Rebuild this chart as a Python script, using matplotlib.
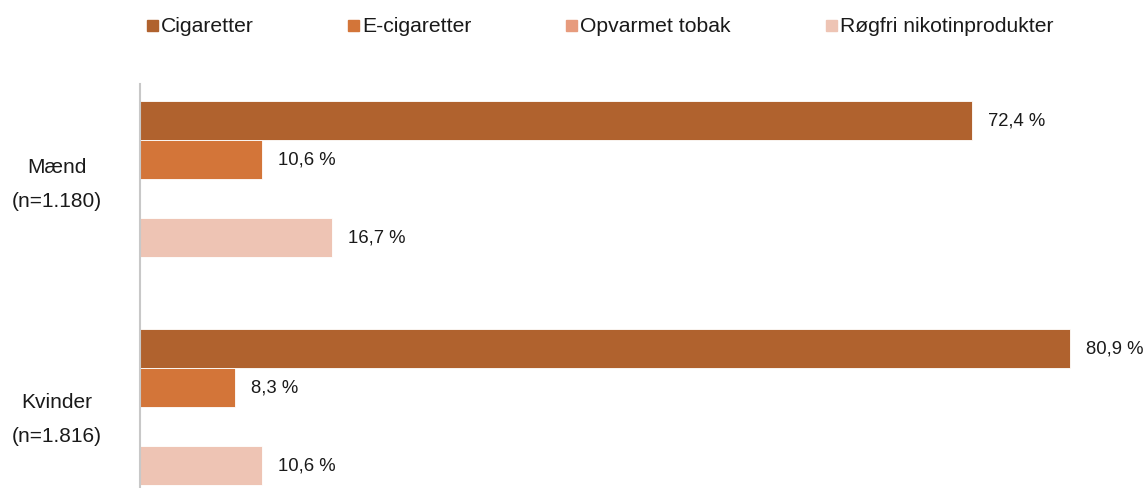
import matplotlib.pyplot as plt
import numpy as np
from matplotlib.patches import Rectangle

plt.rcParams["font.family"] = ["Liberation Sans", "DejaVu Sans"]

groups = ["Mænd\n(n=1.180)", "Kvinder\n(n=1.816)"]
series = ["Cigaretter", "E-cigaretter", "Opvarmet tobak", "Røgfri nikotinprodukter"]
colors = ["#B0622E", "#D37539", "#E79B7D", "#EEC4B4"]

cigaretter = [72.4, 80.9]
e_cigaretter = [10.6, 8.3]
opvarmet_tobak = [np.nan, np.nan]  # no value shown in the chart
roegfri = [16.7, 10.6]

values = [cigaretter, e_cigaretter, opvarmet_tobak, roegfri]

W, H = 1147, 489
fig = plt.figure(figsize=(W / 100, H / 100), dpi=100)

# axes laid out in pixels: y-axis line at x=140, spanning y=85..489
ax = fig.add_axes([140 / W, 0, 1 - 140 / W, (489 - 85) / H])
px_per_pct = 832 / 72.4
ax.set_xlim(0, (W - 140) / px_per_pct)

group_step = 228 / 39
ax.set_ylim(489 / 39 - 102 / 39, (85 - 102) / 39)

for i, (name, vals, col) in enumerate(zip(series, values, colors)):
    for g, v in enumerate(vals):
        y = g * group_step + i + 0.5
        if np.isnan(v):
            continue
        ax.barh(y, v, height=1.0, color=col, edgecolor="white", linewidth=0.6)
        ax.annotate(f"{v:.1f} %".replace(".", ","), (v, y), xytext=(11.5, 0),
                    textcoords="offset points", va="center", ha="left",
                    fontsize=13.3, color="#1a1a1a")

label_offsets = [1.86, 2.04]
ax.set_yticks([g * group_step + off for g, off in enumerate(label_offsets)])
ax.set_yticklabels(groups, fontsize=15, linespacing=2.0, ha="center",
                   color="#1a1a1a")
ax.tick_params(axis="y", length=0, pad=60)
ax.set_xticks([])
for s in ["top", "right", "bottom"]:
    ax.spines[s].set_visible(False)
ax.spines["left"].set_color("#C8C8C8")
ax.spines["left"].set_linewidth(1.5)

# legend row
leg_x = [147, 348, 566, 826]
for x, name, col in zip(leg_x, series, colors):
    fig.patches.append(Rectangle((x / W, 1 - 32 / H), 11 / W, 11 / H,
                                 transform=fig.transFigure, color=col))
    fig.text((x + 14) / W, 1 - 27 / H, name, fontsize=15.2, va="center",
             ha="left", color="#1a1a1a")

fig.savefig("out.png", dpi=100)
